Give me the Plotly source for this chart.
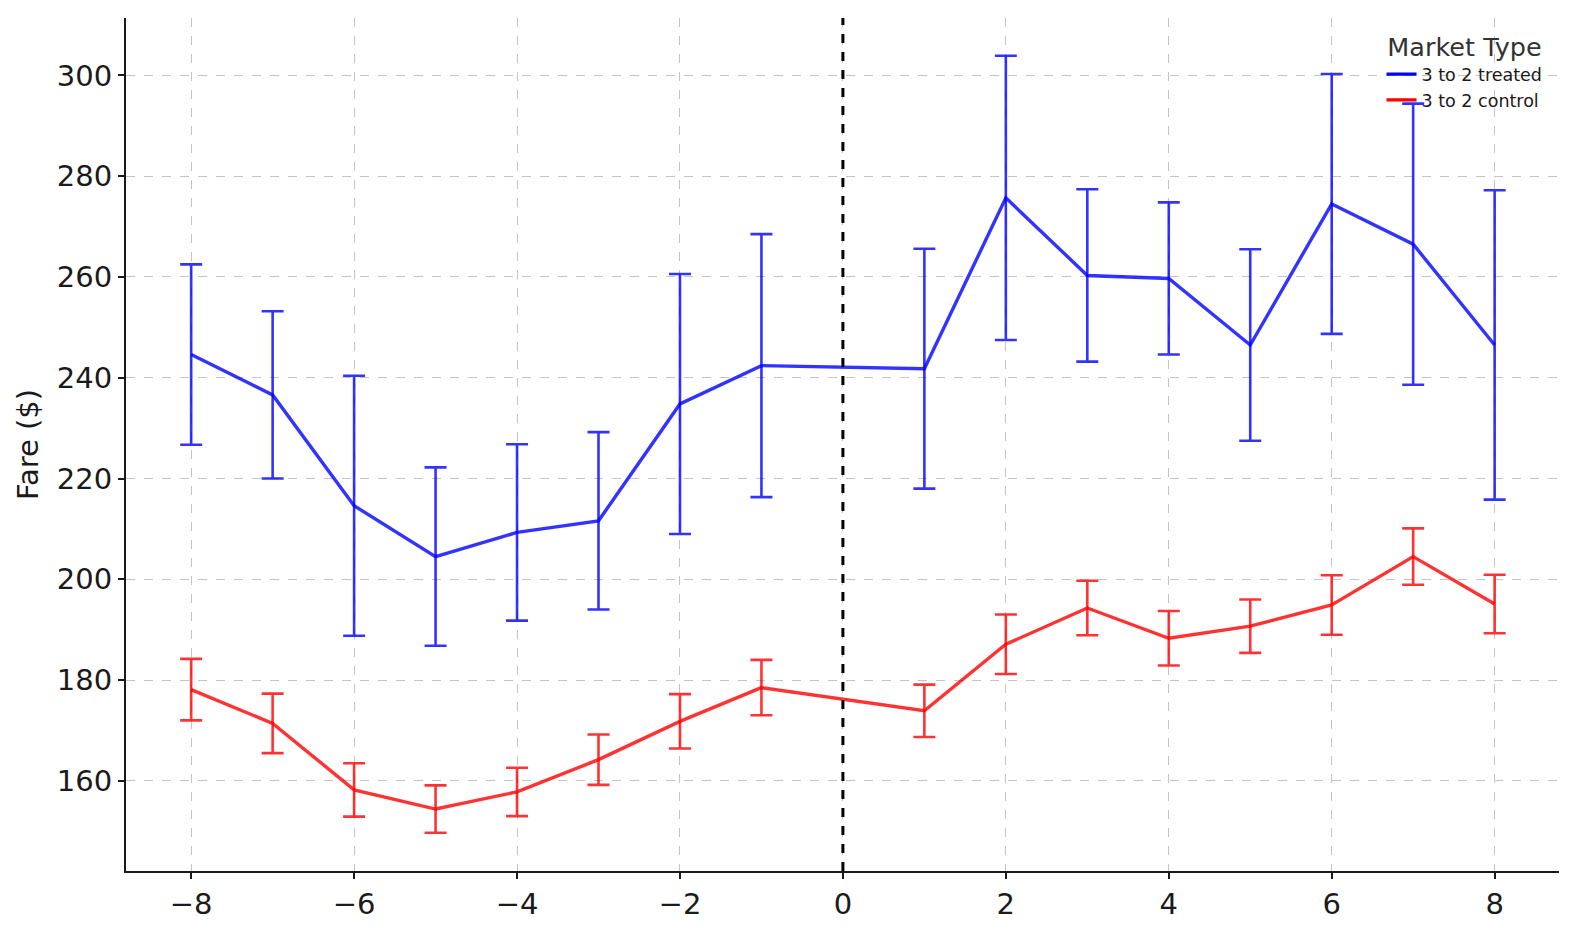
import plotly.graph_objects as go

# Event time (periods relative to the change)
periods = [-8, -7, -6, -5, -4, -3, -2, -1, 1, 2, 3, 4, 5, 6, 7, 8]

# 3 to 2 treated markets
treated_fare = [244.6, 236.6, 214.6, 204.5, 209.3, 211.6, 234.8, 242.4,
                241.8, 275.7, 260.3, 259.7, 246.5, 274.5, 266.5, 246.5]
treated_err = [17.9, 16.6, 25.8, 17.7, 17.5, 17.6, 25.8, 26.1,
               23.8, 28.2, 17.1, 15.1, 19.0, 25.8, 27.9, 30.7]

# 3 to 2 control markets
control_fare = [178.1, 171.4, 158.2, 154.4, 157.8, 164.2, 171.8, 178.5,
                173.9, 187.1, 194.3, 188.3, 190.7, 194.9, 204.5, 195.1]
control_err = [6.1, 5.9, 5.3, 4.7, 4.8, 5.0, 5.4, 5.5,
               5.2, 5.9, 5.4, 5.4, 5.3, 5.9, 5.6, 5.8]

series = [
    ("3 to 2 treated", treated_fare, treated_err, "rgba(0,0,255,0.8)", "rgb(0,0,255)"),
    ("3 to 2 control", control_fare, control_err, "rgba(255,0,0,0.8)", "rgb(255,0,0)"),
]

fig = go.Figure()

for name, fare, err, col, solid in series:
    fig.add_trace(go.Scatter(
        x=periods, y=fare, mode="lines", name=name, showlegend=False,
        line=dict(color=col, width=3.4),
        error_y=dict(type="data", array=err, visible=True,
                     color=col, thickness=2.6, width=11),
    ))
    # legend entry with the solid colour
    fig.add_trace(go.Scatter(
        x=[None], y=[None], mode="lines", name=name,
        line=dict(color=solid, width=3.4),
    ))

# treatment line at period 0
fig.add_shape(type="line", x0=0, x1=0, y0=0, y1=1, xref="x", yref="paper",
              line=dict(color="black", width=3, dash="dash"))

axis_common = dict(
    showline=True, linecolor="#1a1a1a", linewidth=2,
    ticks="outside", ticklen=6, tickwidth=1.5, tickcolor="#1a1a1a",
    showgrid=True, gridcolor="#c4c4c4", griddash="dash", gridwidth=1,
    zeroline=False, mirror=False,
    tickfont=dict(family="DejaVu Sans", size=29, color="#1a1a1a"),
)

fig.update_xaxes(range=[-8.8, 8.79], tickmode="linear", tick0=-8, dtick=2, **axis_common)
fig.update_yaxes(range=[142.1, 311.4], tickmode="linear", tick0=160, dtick=20,
                 title=dict(text="Fare ($)", standoff=10,
                            font=dict(family="DejaVu Sans", size=29, color="#1a1a1a")),
                 **axis_common)

# page body adds an 8px offset, so size and margins are reduced by that
fig.update_layout(
    width=1571, height=923,
    margin=dict(l=118, r=20, t=10, b=58),
    plot_bgcolor="white", paper_bgcolor="white",
    legend=dict(
        x=0.992, xanchor="right", y=0.994, yanchor="top",
        bgcolor="rgba(255,255,255,0)",
        title=dict(text="Market Type", side="top center",
                   font=dict(family="DejaVu Sans", size=25.5, color="#333333")),
        font=dict(family="DejaVu Sans", size=17.5, color="#1a1a1a"),
        itemwidth=30,
    ),
)

fig.write_html("out.html")
